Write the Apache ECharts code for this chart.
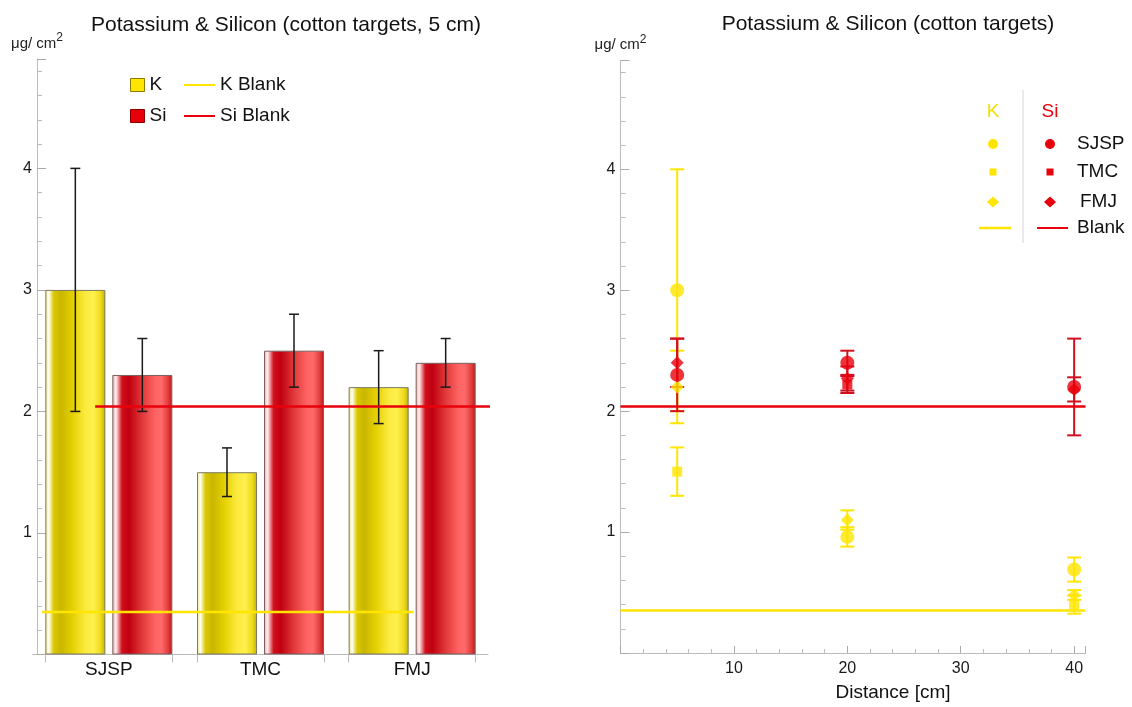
<!DOCTYPE html>
<html><head><meta charset="utf-8">
<script src="https://cdn.jsdelivr.net/npm/echarts@6/dist/echarts.min.js"></script>
<style>html,body{margin:0;padding:0;background:#fff}#c{width:1132px;height:707px}</style>
</head><body><div id="c"></div>
<script>
// ---------------- data ----------------
const categories = ['SJSP', 'TMC', 'FMJ'];
const kValues  = [3.0, 1.5, 2.2];
const kErrors  = [1.0, 0.2, 0.3];
const siValues = [2.3, 2.5, 2.4];
const siErrors = [0.3, 0.3, 0.2];
const kBlank = 0.35;
const siBlank = 2.04;
const kBlankSpan  = [0.06, 2.51];   // extent along the category axis (category units)
const siBlankSpan = [0.41, 3.04];

const distances = [5, 20, 40];
const kSJSP = [3.0, 0.96, 0.69];  const kSJSPErr = [1.0, 0.08, 0.10];
const kTMC  = [1.5, null, 0.40];  const kTMCErr  = [0.2, null, 0.075];
const kFMJ  = [2.2, 1.10, 0.48];  const kFMJErr  = [0.3, 0.08, 0.04];
const siSJSP = [2.3, 2.40, 2.20]; const siSJSPErr = [0.3, 0.10, 0.40];
const siTMC  = [null, 2.22, null]; const siTMCErr = [null, 0.07, null];
const siFMJ  = [2.4, 2.27, 2.18]; const siFMJErr  = [0.2, 0.10, 0.10];

const yTickLabels = [1, 2, 3, 4];
const xTickLabels = [10, 20, 30, 40];
const legendGroups = ['SJSP', 'TMC', 'FMJ', 'Blank'];

// ---------------- styles ----------------
const FONT = 'Liberation Sans, Arial, sans-serif';
const YEL = '#ffe500', RED = '#e8000b';
const BAR_W = 60, BAR_GAP_PX = 7;
const LEFT_GRID = {left: 33, top: 59, width: 455, height: 595.5};
const RIGHT_GRID = {left: 620.5, top: 60.5, width: 465, height: 595.5};
const bandPx = LEFT_GRID.width / categories.length;
const barOffset = (BAR_W + BAR_GAP_PX) / 2;

const yellowGrad = {type: 'linear', x: 0, y: 0, x2: 1, y2: 0, colorStops: [
  {offset: 0, color: '#f4e890'}, {offset: 0.06, color: '#fffff0'}, {offset: 0.14, color: '#dcc800'},
  {offset: 0.26, color: '#c9b600'}, {offset: 0.45, color: '#e4d000'}, {offset: 0.66, color: '#fbe93c'},
  {offset: 0.8, color: '#fff04e'}, {offset: 0.92, color: '#efdb1c'}, {offset: 1, color: '#c4b200'}]};
const redGrad = {type: 'linear', x: 0, y: 0, x2: 1, y2: 0, colorStops: [
  {offset: 0, color: '#f0a8a8'}, {offset: 0.06, color: '#fff0f0'}, {offset: 0.16, color: '#d0101c'},
  {offset: 0.28, color: '#c00010'}, {offset: 0.5, color: '#e03a3a'}, {offset: 0.72, color: '#ff6464'},
  {offset: 0.82, color: '#ff6a6a'}, {offset: 0.93, color: '#e23c3c'}, {offset: 1, color: '#bb1818'}]};

// tick positions at the bar edges (category units), derived from bar geometry
const edgeTicks = [];
categories.forEach((c, i) => {
  const half = (BAR_W * 2 + BAR_GAP_PX) / 2 / bandPx;
  edgeTicks.push(i + 0.5 - half, i + 0.5 + half);
});

function errRender(color, capW, lw, pxOffset) {
  return function (params, api) {
    const x = api.value(0), y = api.value(1), e = api.value(2);
    const t = api.coord([x, y + e]), b = api.coord([x, y - e]);
    const cx = t[0] + pxOffset, h = capW / 2;
    const st = {stroke: color, lineWidth: lw};
    return {type: 'group', children: [
      {type: 'line', shape: {x1: cx, y1: t[1], x2: cx, y2: b[1]}, style: st},
      {type: 'line', shape: {x1: cx - h, y1: t[1], x2: cx + h, y2: t[1]}, style: st},
      {type: 'line', shape: {x1: cx - h, y1: b[1], x2: cx + h, y2: b[1]}, style: st}
    ]};
  };
}
function pts(vals) { return distances.map((d, i) => [d, vals[i]]).filter(p => p[1] != null); }
function errPts(vals, errs) { return distances.map((d, i) => [d, vals[i], errs[i]]).filter(p => p[1] != null); }

const yName = {
  name: '{a|μg/ cm}{b|2}', nameLocation: 'end', nameGap: 4,
  nameTextStyle: {rich: {
    a: {fontSize: 15, color: '#222', fontFamily: FONT},
    b: {fontSize: 12, color: '#222', fontFamily: FONT, padding: [0, 0, 11, 0]}
  }}
};
function yAxisCfg(grid, offset) {
  return Object.assign({
    type: 'value', gridIndex: grid, min: 0, max: 4.9, interval: 1, offset: offset,
    axisLine: {show: true, lineStyle: {color: '#bbb'}},
    axisTick: {show: true, inside: true, length: 9, lineStyle: {color: '#aaa'}},
    minorTick: {show: true, splitNumber: 5, length: 5, lineStyle: {color: '#bbb'}},
    splitLine: {show: false},
    axisLabel: {fontSize: 16, color: '#1a1a1a', fontFamily: FONT, margin: 5,
      formatter: v => yTickLabels.indexOf(v) >= 0 ? String(v) : ''}
  }, yName);
}

const option = {
  animation: false,
  backgroundColor: '#fff',
  title: [
    {text: 'Potassium & Silicon (cotton targets, 5 cm)', left: 281, top: 10, textAlign: 'center',
      textStyle: {fontSize: 21, fontWeight: 'normal', color: '#111', fontFamily: FONT}},
    {text: 'Potassium & Silicon (cotton targets)', left: 883, top: 9, textAlign: 'center',
      textStyle: {fontSize: 21, fontWeight: 'normal', color: '#111', fontFamily: FONT}}
  ],
  grid: [LEFT_GRID, RIGHT_GRID],
  legend: [
    {data: [{name: 'K', itemStyle: {color: YEL, borderColor: '#8a7c00', borderWidth: 1}},
            {name: 'Si', itemStyle: {color: RED, borderColor: '#8a0000', borderWidth: 1}}],
      orient: 'vertical', left: 125, top: 69, itemWidth: 14, itemHeight: 13, itemGap: 9, icon: 'rect',
      selectedMode: false, textStyle: {fontSize: 19, lineHeight: 22, color: '#111', fontFamily: FONT}},
    {data: ['K Blank', 'Si Blank'], orient: 'vertical', left: 179, top: 69, itemWidth: 31, itemHeight: 2,
      itemGap: 9, icon: 'rect', selectedMode: false,
      textStyle: {fontSize: 19, lineHeight: 22, color: '#111', fontFamily: FONT}}
  ],
  xAxis: [
    {type: 'category', gridIndex: 0, data: categories, position: 'bottom',
      axisLine: {lineStyle: {color: '#bbb'}}, axisTick: {show: false},
      axisLabel: {fontSize: 19, color: '#111', margin: 6, fontFamily: FONT}},
    {type: 'value', gridIndex: 0, min: 0, max: categories.length, position: 'bottom',
      axisLine: {show: false}, axisLabel: {show: false}, splitLine: {show: false},
      axisTick: {show: true, customValues: edgeTicks, length: 8, lineStyle: {color: '#bbb'}}},
    {type: 'value', gridIndex: 1, min: 0, max: 41, interval: 10, position: 'bottom',
      axisLine: {lineStyle: {color: '#bbb'}},
      axisTick: {show: true, inside: true, length: 7, lineStyle: {color: '#aaa'}},
      minorTick: {show: true, splitNumber: 5, length: 4, lineStyle: {color: '#bbb'}},
      splitLine: {show: false},
      axisLabel: {fontSize: 16, color: '#1a1a1a', fontFamily: FONT, margin: 8,
        formatter: v => xTickLabels.indexOf(v) >= 0 ? String(v) : ''},
      name: 'Distance [cm]', nameLocation: 'middle', nameGap: 30,
      nameTextStyle: {fontSize: 19, color: '#111', fontFamily: FONT, padding: [0, 0, 0, 80]}}
  ],
  yAxis: [yAxisCfg(0, -4), yAxisCfg(1, 0)],
  graphic: [
    {type: 'text', x: 993, y: 112, style: {text: 'K', fill: '#f5e000', font: '19px ' + FONT, align: 'center', verticalAlign: 'middle'}},
    {type: 'text', x: 1050, y: 112, style: {text: 'Si', fill: RED, font: '19px ' + FONT, align: 'center', verticalAlign: 'middle'}},
    {type: 'line', shape: {x1: 1023, y1: 90, x2: 1023, y2: 243}, style: {stroke: '#d4d4d4', lineWidth: 1}},
    {type: 'circle', shape: {cx: 993, cy: 144, r: 5}, style: {fill: YEL}},
    {type: 'circle', shape: {cx: 1050, cy: 144, r: 5}, style: {fill: RED}},
    {type: 'rect', shape: {x: 989.5, y: 168.5, width: 7, height: 7}, style: {fill: YEL}},
    {type: 'rect', shape: {x: 1046.5, y: 168.5, width: 7, height: 7}, style: {fill: RED}},
    {type: 'polygon', shape: {points: [[993, 196.5], [999, 202], [993, 207.5], [987, 202]]}, style: {fill: YEL}},
    {type: 'polygon', shape: {points: [[1050, 196.5], [1056, 202], [1050, 207.5], [1044, 202]]}, style: {fill: RED}},
    {type: 'line', shape: {x1: 979, y1: 228, x2: 1011, y2: 228}, style: {stroke: YEL, lineWidth: 2.5}},
    {type: 'line', shape: {x1: 1037, y1: 228, x2: 1068, y2: 228}, style: {stroke: RED, lineWidth: 2}},
    {type: 'text', x: 1077, y: 144, style: {text: legendGroups[0], fill: '#111', font: '19px ' + FONT, verticalAlign: 'middle'}},
    {type: 'text', x: 1077, y: 172, style: {text: legendGroups[1], fill: '#111', font: '19px ' + FONT, verticalAlign: 'middle'}},
    {type: 'text', x: 1080, y: 202, style: {text: legendGroups[2], fill: '#111', font: '19px ' + FONT, verticalAlign: 'middle'}},
    {type: 'text', x: 1077, y: 228, style: {text: legendGroups[3], fill: '#111', font: '19px ' + FONT, verticalAlign: 'middle'}}
  ],
  series: [
    // ---- left: bars ----
    {name: 'K', type: 'bar', xAxisIndex: 0, yAxisIndex: 0, data: kValues, barWidth: BAR_W,
      barGap: (BAR_GAP_PX / BAR_W * 100) + '%', color: YEL,
      itemStyle: {color: yellowGrad, borderColor: '#7a7a60', borderWidth: 1}, z: 2},
    {name: 'Si', type: 'bar', xAxisIndex: 0, yAxisIndex: 0, data: siValues, barWidth: BAR_W,
      barGap: (BAR_GAP_PX / BAR_W * 100) + '%', color: RED,
      itemStyle: {color: redGrad, borderColor: '#7a6060', borderWidth: 1}, z: 2},
    {name: 'K err', type: 'custom', xAxisIndex: 0, yAxisIndex: 0, z: 3,
      data: categories.map((c, i) => [i, kValues[i], kErrors[i]]),
      renderItem: errRender('#1a1a1a', 10, 1.5, -barOffset)},
    {name: 'Si err', type: 'custom', xAxisIndex: 0, yAxisIndex: 0, z: 3,
      data: categories.map((c, i) => [i, siValues[i], siErrors[i]]),
      renderItem: errRender('#1a1a1a', 10, 1.5, barOffset)},
    {name: 'K Blank', type: 'line', xAxisIndex: 1, yAxisIndex: 0, color: YEL, symbol: 'none', clip: false, z: 4,
      lineStyle: {color: YEL, width: 2.5}, data: [[kBlankSpan[0], kBlank], [kBlankSpan[1], kBlank]]},
    {name: 'Si Blank', type: 'line', xAxisIndex: 1, yAxisIndex: 0, color: RED, symbol: 'none', clip: false, z: 4,
      lineStyle: {color: RED, width: 2.5}, data: [[siBlankSpan[0], siBlank], [siBlankSpan[1], siBlank]]},

    // ---- right: scatter with error bars ----
    {name: 'K SJSP err', type: 'custom', xAxisIndex: 2, yAxisIndex: 1, z: 3, data: errPts(kSJSP, kSJSPErr), renderItem: errRender(YEL, 14, 2, 0)},
    {name: 'K TMC err', type: 'custom', xAxisIndex: 2, yAxisIndex: 1, z: 3, data: errPts(kTMC, kTMCErr), renderItem: errRender(YEL, 14, 2, 0)},
    {name: 'K FMJ err', type: 'custom', xAxisIndex: 2, yAxisIndex: 1, z: 3, data: errPts(kFMJ, kFMJErr), renderItem: errRender(YEL, 14, 2, 0)},
    {name: 'Si SJSP err', type: 'custom', xAxisIndex: 2, yAxisIndex: 1, z: 3.5, data: errPts(siSJSP, siSJSPErr), renderItem: errRender('#d01020', 14, 2, 0)},
    {name: 'Si TMC err', type: 'custom', xAxisIndex: 2, yAxisIndex: 1, z: 3.5, data: errPts(siTMC, siTMCErr), renderItem: errRender('#d01020', 14, 2, 0)},
    {name: 'Si FMJ err', type: 'custom', xAxisIndex: 2, yAxisIndex: 1, z: 3.5, data: errPts(siFMJ, siFMJErr), renderItem: errRender('#d01020', 14, 2, 0)},
    {name: 'K SJSP', type: 'scatter', xAxisIndex: 2, yAxisIndex: 1, z: 4, symbol: 'circle', symbolSize: 14, itemStyle: {color: YEL}, data: pts(kSJSP),
      markLine: {silent: true, symbol: 'none', label: {show: false}, lineStyle: {color: YEL, width: 2.5, type: 'solid'}, data: [{yAxis: kBlank}]}},
    {name: 'K TMC', type: 'scatter', xAxisIndex: 2, yAxisIndex: 1, z: 4, symbol: 'rect', symbolSize: 10, itemStyle: {color: YEL}, data: pts(kTMC)},
    {name: 'K FMJ', type: 'scatter', xAxisIndex: 2, yAxisIndex: 1, z: 4, symbol: 'diamond', symbolSize: 13, itemStyle: {color: YEL}, data: pts(kFMJ)},
    {name: 'Si SJSP', type: 'scatter', xAxisIndex: 2, yAxisIndex: 1, z: 6, symbol: 'circle', symbolSize: 14, itemStyle: {color: RED}, data: pts(siSJSP),
      markLine: {silent: true, symbol: 'none', label: {show: false}, lineStyle: {color: RED, width: 2.5, type: 'solid'}, data: [{yAxis: siBlank}]}},
    {name: 'Si TMC', type: 'scatter', xAxisIndex: 2, yAxisIndex: 1, z: 6, symbol: 'rect', symbolSize: 10, itemStyle: {color: RED}, data: pts(siTMC)},
    {name: 'Si FMJ', type: 'scatter', xAxisIndex: 2, yAxisIndex: 1, z: 6, symbol: 'diamond', symbolSize: 13, itemStyle: {color: RED}, data: pts(siFMJ)}
  ]
};

const chart = echarts.init(document.getElementById('c'), null, {renderer: 'canvas'});
chart.setOption(option);
</script>
</body></html>
